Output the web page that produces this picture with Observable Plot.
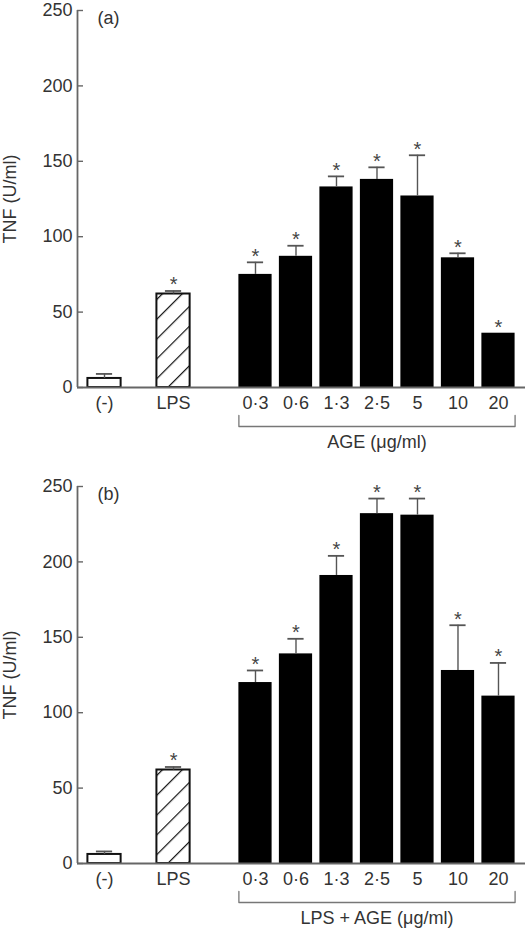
<!DOCTYPE html>
<html>
<head>
<meta charset="utf-8">
<script src="https://cdn.jsdelivr.net/npm/d3@7"></script>
<script src="https://cdn.jsdelivr.net/npm/@observablehq/plot@0.6"></script>
<style>
  body { margin: 0; background: #fff; }
  #chart > div { line-height: 0; }
  svg { display: block; }
</style>
</head>
<body>
<div id="chart"></div>
<script>
// ---- data ----
const categories = ["(-)", "LPS", "0·3", "0·6", "1·3", "2·5", "5", "10", "20"];
const kinds = ["control", "lps", "age", "age", "age", "age", "age", "age", "age"];
const significant = [false, true, true, true, true, true, true, true, true];
const tnfA = [6, 62, 75, 87, 133, 138, 127, 86, 36];
const semA = [3, 2, 8, 7, 7, 8, 27, 3, 0];
const tnfB = [6, 62, 120, 139, 191, 232, 231, 128, 111];
const semB = [2, 2, 8, 10, 13, 10, 11, 30, 22];
const yTicks = [0, 50, 100, 150, 200, 250];
const yAxisLabel = "TNF (U/ml)";
const panelLabels = ["(a)", "(b)"];
const groupLabels = ["AGE (\u03bcg/ml)", "LPS + AGE (\u03bcg/ml)"];

// ---- layout ----
const slot = i => (i < 2 ? i * 1.704 : 3.728 + (i - 2));
const HALF = 0.41, CAP = 0.2;
const X0 = -0.667, X1 = 10.395;

function panel(values, sems, label, groupLabel, height, marginBottom, id) {
  const mt = 10;
  const rows = categories.map((c, i) => ({
    c, kind: kinds[i], x: slot(i), v: values[i], hi: values[i] + sems[i], sem: sems[i], star: significant[i]
  }));
  const pxToY = 250 / (height - mt - marginBottom);
  const age = rows.filter(d => d.kind === "age");
  const bx1 = age[0].x - HALF, bx2 = age[age.length - 1].x + HALF;
  const by = -39 * pxToY, bt = -28 * pxToY;
  const bracket = [[bx1, bt], [bx1, by], [bx2, by], [bx2, bt]];
  const fillOf = d => d.kind === "control" ? "white" : d.kind === "lps" ? `url(#${id})` : "black";
  const labelAt = d => { const r = rows.find(r => Math.abs(r.x - d) < 1e-6); return r ? r.c : ""; };

  const svg = Plot.plot({
    width: 528, height, marginLeft: 77, marginRight: 3, marginTop: mt, marginBottom,
    style: { fontFamily: "'Liberation Sans', Arial, Helvetica, sans-serif", fontSize: "18px", color: "#333", background: "white" },
    x: { type: "linear", domain: [X0, X1] },
    y: { type: "linear", domain: [0, 250] },
    marks: [
      Plot.rect(rows, { x1: d => d.x - HALF, x2: d => d.x + HALF, y1: 0, y2: "v", fill: fillOf,
        stroke: d => d.kind === "age" ? "none" : "#111", strokeWidth: 2 }),
      Plot.ruleX(rows.filter(d => d.sem > 0), { x: "x", y1: "v", y2: "hi", stroke: "#555", strokeWidth: 1.4 }),
      Plot.ruleY(rows.filter(d => d.sem > 0), { y: "hi", x1: d => d.x - CAP, x2: d => d.x + CAP, stroke: "#555", strokeWidth: 1.8 }),
      Plot.text(rows.filter(d => d.star), { x: "x", y: "hi", text: () => "*", dy: -6, fontSize: 20, fill: "#444" }),
      Plot.ruleX([X0], { stroke: "#666", strokeWidth: 1.8 }),
      Plot.ruleY([0], { stroke: "#666", strokeWidth: 1.8 }),
      Plot.axisY({ ticks: yTicks, tickSize: 6, dx: 6, tickFormat: () => "", label: null, stroke: "#666", strokeWidth: 1.4 }),
      Plot.axisY({ ticks: yTicks, tickSize: 0, tickPadding: 5, label: null, fill: "#333" }),
      Plot.axisX({ ticks: rows.map(d => d.x), tickFormat: labelAt, tickSize: 0, tickPadding: 9, label: null, fill: "#333" }),
      Plot.line(bracket, { x: d => d[0], y: d => d[1], stroke: "#777", strokeWidth: 1.3, clip: false }),
      Plot.text([{ x: (bx1 + bx2) / 2, y: 0, t: groupLabel }], { x: "x", y: "y", text: "t", dy: 55, lineAnchor: "middle", fill: "#333" }),
      Plot.text([label], { frameAnchor: "top-left", dx: 20, dy: 8, textAnchor: "start", lineAnchor: "middle", fill: "#333" }),
      Plot.text([yAxisLabel], { frameAnchor: "left", dx: -67, rotate: -90, textAnchor: "middle", lineAnchor: "middle", fill: "#333" })
    ]
  });
  const defs = d3.select(svg).insert("defs", ":first-child");
  const pat = defs.append("pattern").attr("id", id).attr("patternUnits", "userSpaceOnUse")
    .attr("width", 14).attr("height", 14).attr("patternTransform", "rotate(45)");
  pat.append("rect").attr("width", 14).attr("height", 14).attr("fill", "white");
  pat.append("line").attr("x1", 0).attr("y1", 0).attr("x2", 0).attr("y2", 14).attr("stroke", "#111").attr("stroke-width", 2.4);
  return svg;
}

const root = document.getElementById("chart");
const a = document.createElement("div");
a.appendChild(panel(tnfA, semA, panelLabels[0], groupLabels[0], 476, 89, "hatchA"));
const b = document.createElement("div");
b.appendChild(panel(tnfB, semB, panelLabels[1], groupLabels[1], 456, 69, "hatchB"));
root.appendChild(a);
root.appendChild(b);
</script>
</body>
</html>
